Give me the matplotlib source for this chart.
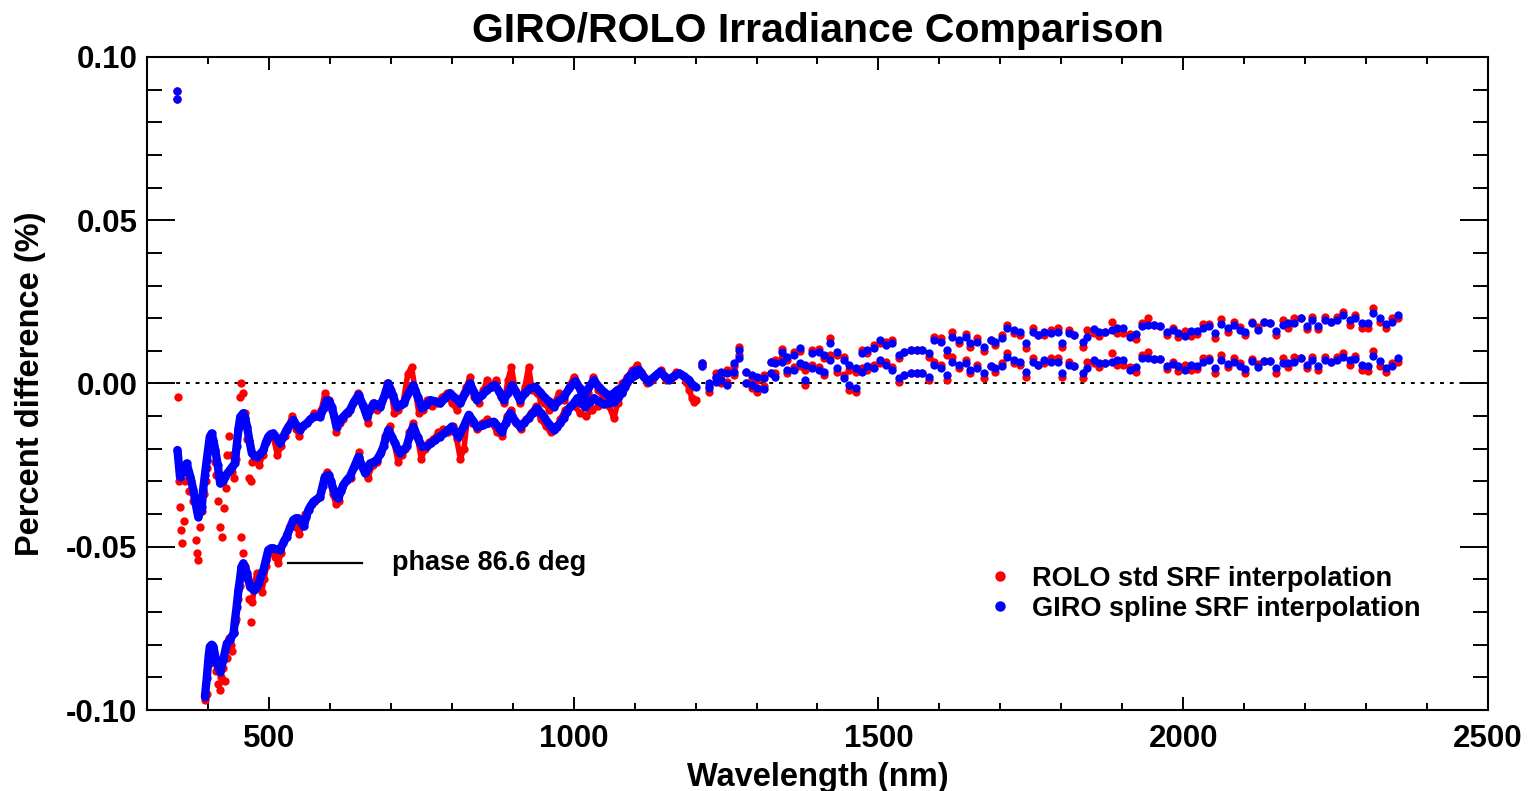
import numpy as np
import matplotlib
matplotlib.use('Agg')
import matplotlib.pyplot as plt
from matplotlib.ticker import MultipleLocator

plt.rcParams['font.family'] = ['Liberation Sans', 'DejaVu Sans']
plt.rcParams['font.weight'] = 'bold'

# values are percent difference in units of 0.001 %

# dense part, phase small (upper curve)
giro_up_nm = [350, 354, 360, 365, 371, 376, 380, 384, 388, 390, 392, 395, 398, 403, 406, 409, 412, 416,
              420, 424, 428, 432, 436, 440, 444, 447, 450, 453, 458, 461, 464, 468, 472, 476, 480, 486,
              491, 495, 499, 503, 507, 512, 518, 523, 529, 535, 540, 546, 551, 556, 562, 568, 573, 579,
              584, 590, 595, 599, 603, 607, 611, 617, 622, 628, 633, 640, 647, 654, 661, 666, 672, 678,
              683, 690, 696, 703, 710, 716, 721, 729, 737, 744, 751, 758, 765, 773, 781, 789, 797, 806,
              814, 822, 830, 836, 841, 850, 858, 865, 871, 878, 885, 892, 899, 905, 912, 920, 928, 937,
              944, 951, 959, 967, 975, 984, 993, 1003, 1010, 1016, 1024, 1033, 1041, 1049, 1058, 1066,
              1072, 1079, 1086, 1093, 1100, 1107, 1115, 1123, 1132, 1142, 1149, 1156, 1164, 1173, 1181,
              1189, 1195, 1200]
giro_up = [-20.4, -28.5, -27, -24.5, -28.5, -32.6, -37, -40.8, -39, -37.7, -32.6, -28, -23.4, -16.3, -15.3,
           -17.5, -20.4, -25, -30.6, -30, -28.5, -27.5, -26.5, -25.5, -24.5, -19.3, -14, -10.2, -9.1, -10.5,
           -13.2, -17.5, -21.4, -22.2, -22.4, -21.5, -20.4, -18, -16.3, -15.5, -15.3, -16.5, -18.3, -16.5,
           -14.2, -12.5, -11.2, -13, -14.2, -13, -12.2, -11, -10.2, -10, -10.2, -7.5, -5.1, -5.5, -7.1, -10,
           -13.2, -11.5, -10.2, -9, -8.1, -5.5, -3.5, -6.5, -10.2, -8, -6.1, -6.5, -7.1, -3.5, 0.0, -3.5,
           -7.1, -6.5, -6.1, -3, -0.5, -4, -7.6, -6.5, -5.1, -5.5, -6.1, -4.5, -3.0, -4.5, -6.1, -3, 0.0,
           -2.5, -5.1, -3.5, -2.0, -1, -0.5, -2.5, -5.1, -3, -0.5, -2.5, -5.1, -3, -1.5, -1.0, -2.5, -4.0,
           -5.5, -7.1, -5.5, -4.0, -1.5, 0.8, -1.5, -4.3, -1.5, 1.0, -1, -2.5, -3.8, -3.0, -2, -1.5, 0.5,
           2.6, 3.8, 4.2, 2.0, 0.6, 2, 3.6, 2.3, 1.1, 2.2, 3.1, 2.2, 1.1, -0.5, -1.0]

rolo_up_nm = [352, 354, 356, 358, 360, 363, 366, 369, 372, 376, 380, 382, 384, 387, 390, 393, 396,
              399, 402, 405, 408, 411, 414, 417, 420, 423, 426, 429, 432, 434, 437, 440, 443, 446, 449,
              452, 455, 458, 461, 464, 467, 470, 473, 478, 484, 490, 496, 502, 508, 514, 520, 526, 532,
              538, 544, 550, 556, 562, 568, 574, 580, 586, 592, 598, 604, 610, 616, 622, 630, 638, 646,
              654, 662, 670, 678, 686, 694, 700, 706, 712, 720, 728, 734, 740, 746, 752, 760, 768, 776,
              784, 792, 800, 808, 816, 824, 830, 836, 844, 852, 858, 866, 872, 880, 886, 892, 898, 904,
              912, 920, 926, 932, 940, 946, 952, 960, 968, 976, 984, 992, 1000, 1008, 1016, 1024, 1032,
              1040, 1048, 1056, 1064, 1072, 1080, 1088, 1096, 1104, 1112, 1120, 1128, 1136, 1144, 1152,
              1160, 1168, 1176, 1184, 1190, 1194, 1197, 1200]
rolo_up = [-30, -37.7, -44.9, -49.0, -42, -30, -26, -33, -30, -36, -48, -52, -54, -44, -39, -34, -30,
           -26, -19, -17, -19, -24, -28, -36, -44, -47, -38, -32, -22, -16, -22, -27, -29, -23, -14, -4, 0,
           -3, -9, -17, -29, -30, -24, -23, -25, -22, -18, -16, -17, -22, -19, -16, -13, -10, -14, -16, -13,
           -12, -11, -9, -10, -8, -3, -5, -8, -15, -12, -11, -9, -6, -3, -7, -12, -6, -8, -5, 0, -2, -9, -8,
           -6, 3, 5, -2, -9, -8, -5, -7, -6, -4, -3, -6, -8, -4, -1, 2, -4, -6, -2, 1, -1, 1, -4, -6, 1, 5,
           -2, -6, -1, 5, -2, -3, -5, -6, -8, -6, -3, -5, -1, 2, -1, -6, -3, 2, -2, -4, -5, -5, -2, 0, 2, 4,
           5.7, 3, 0, 1, 3, 4, 1, 1.5, 3.5, 3, 0.5, -2, -4.5, -5.6, -5]

# dense part, phase 86.6 deg (lower curve)
giro_low_nm = [395, 398, 401, 403, 406, 409, 414, 420, 425, 431, 436, 442, 444, 447, 450, 453, 455, 458,
               461, 464, 469, 475, 479, 483, 487, 491, 495, 499, 503, 507, 512, 518, 523, 529, 535, 540,
               544, 548, 553, 557, 561, 565, 569, 573, 578, 584, 588, 592, 598, 602, 606, 610, 614, 618,
               622, 628, 633, 640, 647, 652, 658, 662, 666, 672, 677, 683, 688, 692, 696, 702, 707, 711,
               715, 720, 726, 731, 737, 744, 751, 759, 766, 773, 780, 787, 794, 800, 806, 811, 820, 828,
               835, 841, 847, 852, 860, 869, 876, 882, 889, 896, 904, 912, 919, 926, 933, 940, 946, 951,
               959, 967, 972, 978, 984, 989, 995, 1000, 1006, 1012, 1019, 1026, 1033, 1041, 1049, 1058,
               1066, 1072, 1079, 1084, 1088, 1093, 1099, 1104, 1110]
giro_low = [-95.9, -90.3, -83.7, -80.6, -80, -80.6, -85.7, -88.3, -84.7, -79.6, -78.6, -76.5, -73.0, -68.4,
            -63.3, -59.2, -56.1, -55.1, -56.5, -58.1, -62.2, -63.3, -62.5, -61.2, -59, -57.1, -54, -51.0,
            -50.5, -50.5, -50.8, -51.0, -49, -46.9, -44, -41.8, -41.3, -41.3, -42.5, -43.8, -41, -38.7,
            -37.3, -36.2, -35.5, -34.7, -31.5, -28.5, -28.0, -30, -32.6, -34.5, -35.2, -33, -31.1, -29.5,
            -28.5, -25.5, -22.4, -25, -27.5, -26, -24.5, -24, -23.4, -21.5, -19.3, -16.5, -14.2, -16.5,
            -18.3, -20, -21.4, -20.5, -19.3, -16, -13.2, -16.5, -19.3, -19.3, -18.3, -17.3, -16.3, -15.3,
            -14.3, -13.2, -14.8, -16.3, -13, -9.6, -11.5, -13.2, -13, -12.7, -12.2, -11.7, -13.2, -14.8,
            -12, -9.1, -11.5, -13.2, -12, -10.7, -9, -7.6, -9, -10.2, -12.3, -14.2, -13.2, -12.2, -10.5,
            -8.6, -7, -6.1, -4.5, -6, -7.1, -5.8, -4.5, -5.5, -6.4, -6, -5.6, -4.3, -3.0, -1.2, 0.6, 1.5,
            2.3, 2.9, 3.1]

rolo_low_nm = [395, 398, 401, 404, 407, 410, 413, 416, 419, 422, 425, 428, 431, 434, 437, 440, 443, 446,
               449, 452, 455, 458, 461, 464, 467, 470, 473, 476, 480, 484, 488, 492, 496, 500, 505, 510,
               515, 520, 525, 530, 535, 540, 545, 550, 555, 560, 565, 570, 575, 580, 585, 590, 595, 600,
               605, 610, 615, 620, 627, 634, 641, 648, 655, 662, 670, 677, 684, 691, 698, 705, 712, 718,
               724, 730, 737, 744, 750, 756, 762, 770, 778, 786, 794, 802, 808, 814, 820, 826, 834, 842,
               850, 858, 866, 874, 882, 890, 898, 906, 914, 922, 930, 938, 946, 954, 962, 970, 978, 986,
               994, 1002, 1010, 1020, 1030, 1040, 1050, 1058, 1066, 1072, 1080, 1088, 1096, 1104, 1110]
rolo_low = [-97, -95, -86, -83, -80, -84, -88, -92, -94, -90, -87, -91, -84, -78, -80, -82, -76, -72, -66,
            -62, -47, -52, -56, -60, -66, -73, -67, -62, -58, -61, -64, -60, -56, -52, -51, -53, -55, -52,
            -48, -46, -44, -42, -44, -46, -43, -40, -38, -37, -36, -35, -33, -29, -27, -30, -34, -37, -36,
            -32, -30, -29, -25, -21, -26, -29, -25, -24, -21, -16, -13, -18, -24, -22, -20, -15, -12, -17,
            -23, -20, -18, -17, -15, -14, -15, -13, -17, -23, -20, -10, -12, -14, -12, -11, -12, -15, -16,
            -10, -8, -12, -14, -11, -9, -7, -11, -13, -15, -14, -11, -8, -7, -7, -9, -10, -8, -7, -6, -7,
            -10.7, -6, -3, 0, 2, 3, 3.5]

# isolated points: 350 nm band and one ROLO outlier
giro_first_nm = [350, 350]
giro_first = [87.0, 89.5]
rolo_out_nm = [350, 350, 351]
rolo_out = [87.0, 89.5, -4.0]

# sparse bands 1210-2355 nm, two rows (hi / lo)
band_nm = [1211, 1222, 1233, 1242, 1252, 1263, 1271, 1282, 1293, 1301, 1312, 1323, 1331, 1342, 1350, 1361,
           1372, 1380, 1391, 1402, 1411, 1421, 1432, 1443, 1452, 1463, 1473, 1482, 1493, 1502, 1512, 1523,
           1533, 1542, 1553, 1563, 1572, 1583, 1591, 1602, 1613, 1621, 1632, 1643, 1651, 1662, 1673, 1684,
           1692, 1703, 1711, 1722, 1733, 1742, 1753, 1761, 1772, 1783, 1794, 1802, 1813, 1821,
           1835, 1843, 1853, 1862, 1872, 1883, 1892, 1902, 1912, 1922, 1932, 1943, 1952, 1962, 1973, 1983,
           1992, 2003, 2013, 2022, 2032, 2042, 2053, 2062, 2073, 2083, 2093, 2102, 2113, 2123, 2132, 2142,
           2153, 2163, 2172, 2182, 2193, 2203, 2212, 2222, 2233, 2242, 2252, 2263, 2273, 2282, 2293, 2303,
           2312, 2323, 2333, 2343, 2353]
giro_hi = [6.2, 0.05, 2.1, 3.6, 3.1, 6.2, 10.3, 3.6, 2.6, 2.1, 1.6, 6.7, 6.2, 9.7, 8.2, 8.7, 10.8, 5.7, 9.2,
           9.7, 8.7, 12.3, 9.7, 7.2, 5.7, 4.6, 9.2, 10.3, 10.8, 13.3, 11.8, 12.3, 8.7, 9.7, 10.3, 10.3, 10.3,
           9.2, 13.3, 12.8, 10.3, 14.3, 13.3, 14.3, 12.3, 12.8, 11.3, 13.3, 12.8, 13.8, 16.9, 16.4, 15.9,
           12.3, 15.9, 14.8, 15.9, 15.4, 15.9, 12.3, 15.4, 14.8,
           12.8, 14.3, 16.6, 15.9, 15.9, 16.4, 17.1, 16.9, 14.1, 15.2, 17.6, 17.9, 17.8, 17.7, 15.7, 16.4,
           15.6, 14.5, 16.1, 16.1, 17.1, 17.6, 15.4, 18.2, 16.9, 17.9, 16.4, 15.7, 18.4, 16.4, 18.9, 18.6,
           16.2, 17.9, 18.4, 18.4, 19.9, 17.7, 19.4, 17.6, 19.4, 18.9, 19.4, 21.0, 19.4, 19.9, 18.6, 18.6,
           21.7, 20.2, 18.1, 18.9, 21.0]
giro_lo = [5.2, -1.5, 0.6, 1.1, -0.5, 3.6, 7.7, 0.05, -0.5, -1.5, -1.8, 3.1, 2.1, 6.7, 4.1, 4.1, 6.2, 1.1,
           4.6, 4.1, 3.6, 7.2, 4.6, 1.6, -0.5, -1.5, 3.6, 5.2, 4.6, 7.2, 5.7, 4.1, 1.6, 2.6, 3.1, 3.1, 3.1,
           2.1, 5.7, 4.6, 2.6, 6.7, 5.7, 6.2, 4.1, 4.6, 3.1, 5.2, 4.6, 5.2, 8.2, 7.2, 6.7, 3.6, 6.7, 5.7,
           7.2, 6.7, 6.7, 3.1, 5.7, 5.2,
           3.1, 4.6, 7.2, 6.4, 6.2, 6.7, 7.2, 7.2, 4.1, 4.9, 7.7, 7.7, 7.6, 7.4, 5.4, 6.0, 5.4, 4.1, 5.7,
           5.4, 6.7, 7.2, 4.6, 7.2, 6.0, 6.7, 5.2, 4.3, 7.0, 4.9, 7.0, 6.9, 4.6, 6.2, 6.4, 6.7, 7.7, 5.7,
           7.2, 5.2, 7.2, 6.7, 7.2, 8.2, 7.2, 7.4, 5.7, 5.4, 8.4, 7.0, 4.6, 5.4, 7.7]
rolo_hi = [6.2, -0.9, 3.1, 2.6, 4.1, 5.2, 11.3, 3.6, 1.6, 1.1, 2.6, 6.7, 7.2, 10.7, 7.2, 9.7, 9.8, 4.2,
           10.2, 10.7, 7.7, 13.8, 8.7, 8.2, 4.2, 3.6, 10.2, 9.3, 11.8, 12.3, 12.8, 13.3, 7.7, 9.7, 10.3,
           10.3, 10.3, 8.2, 14.3, 13.8, 8.8, 15.8, 12.3, 15.3, 11.3, 13.8, 9.8, 13.3, 11.8, 14.8, 17.9,
           15.4, 14.9, 10.8, 16.9, 14.8, 14.9, 16.4, 16.9, 11.3, 16.4, 14.8,
           11.3, 16.3, 15.6, 14.4, 15.9, 18.9, 15.6, 15.4, 15.1, 13.7, 18.6, 19.9, 17.8, 17.7, 14.7, 16.9,
           14.1, 16.0, 14.6, 15.1, 18.1, 18.1, 13.9, 19.7, 15.9, 18.9, 17.4, 14.7, 18.9, 17.4, 18.9, 18.6,
           14.7, 19.4, 16.9, 19.9, 19.9, 16.7, 20.4, 16.6, 20.4, 18.9, 20.4, 22.0, 17.9, 20.9, 17.1, 17.1,
           23.2, 18.7, 17.1, 19.9, 20.0]
rolo_lo = [5.2, -2.5, 1.6, 0.1, 0.5, 2.6, 8.7, 0.05, -1.5, -2.5, -0.8, 3.1, 3.1, 7.7, 3.1, 5.1, 5.2, -0.4,
           5.6, 5.1, 2.6, 8.7, 3.6, 2.6, -2.0, -2.5, 4.6, 4.2, 5.6, 6.2, 6.7, 5.1, 0.6, 2.6, 3.1, 3.1, 3.1,
           1.1, 6.7, 5.6, 1.1, 8.2, 4.7, 7.2, 3.1, 5.6, 1.6, 5.2, 3.6, 6.2, 9.2, 6.2, 5.7, 2.1, 7.7, 5.7,
           6.2, 7.7, 7.7, 2.1, 6.7, 5.2,
           1.6, 6.6, 6.2, 4.9, 6.2, 9.2, 5.7, 5.7, 5.1, 3.4, 8.7, 9.7, 7.6, 7.4, 4.4, 6.5, 3.9, 5.6, 4.2,
           4.4, 7.7, 7.7, 3.1, 8.7, 5.0, 7.7, 6.2, 3.3, 7.5, 5.9, 7.0, 6.9, 3.1, 7.7, 4.9, 8.2, 7.7, 4.7,
           8.2, 4.2, 8.2, 6.7, 8.2, 9.2, 5.7, 8.4, 4.2, 3.9, 9.9, 5.5, 3.6, 6.4, 6.7]

def pct(v):
    return np.array(v) / 1000.0

fig = plt.figure(figsize=(15.33, 7.91), dpi=100)
ax = fig.add_axes([0.0959, 0.1024, 0.8747, 0.8256])

ax.axhline(0, color='black', lw=1.4, ls=(0, (2, 3)), zorder=1)

ms = 6.0
red = '#ff0000'
blue = '#0000ff'
dot_kw = dict(ls='none', marker='o', ms=ms, mew=0)
band_kw = dict(lw=4.0, marker='o', ms=ms, mew=0, solid_joinstyle='round', solid_capstyle='round')

# ROLO underneath: scattered dots in the UV, joined band above 470 nm
rn = np.array(rolo_up_nm)
rv = pct(rolo_up)
uv = rn <= 470
ax.plot(rn[uv], rv[uv], color=red, zorder=2, **dot_kw)
ax.plot(rn[~uv], rv[~uv], color=red, zorder=2, **band_kw)
rn = np.array(rolo_low_nm)
rv = pct(rolo_low)
uv = rn <= 470
ax.plot(rn[uv], rv[uv], color=red, zorder=2, **dot_kw)
ax.plot(rn[~uv], rv[~uv], color=red, zorder=2, **band_kw)
ax.plot(rolo_out_nm, pct(rolo_out), color=red, zorder=2, **dot_kw)
ax.plot(band_nm, pct(rolo_hi), color=red, zorder=2, **dot_kw)
ax.plot(band_nm, pct(rolo_lo), color=red, zorder=2, label='ROLO std SRF interpolation', **dot_kw)

# GIRO on top
band_kw['lw'] = 6.0
ax.plot(giro_up_nm, pct(giro_up), color=blue, zorder=3, **band_kw)
ax.plot(giro_low_nm, pct(giro_low), color=blue, zorder=3, **band_kw)
ax.plot(giro_first_nm, pct(giro_first), color=blue, zorder=3, **dot_kw)
ax.plot(band_nm, pct(giro_hi), color=blue, zorder=3, **dot_kw)
ax.plot(band_nm, pct(giro_lo), color=blue, zorder=3, label='GIRO spline SRF interpolation', **dot_kw)

# phase annotation
ax.plot([531, 653], [-0.055, -0.055], color='black', lw=1.6)
ax.text(702, -0.055, 'phase 86.6 deg', fontsize=19.5, fontweight='bold', va='center', ha='left')

ax.set_xlim(300, 2500)
ax.set_ylim(-0.10, 0.10)
ax.set_xticks([500, 1000, 1500, 2000, 2500])
ax.xaxis.set_minor_locator(MultipleLocator(100))
yt = [-0.10, -0.05, 0.0, 0.05, 0.10]
ax.set_yticks(yt, ['%.2f' % v if v != 0 else '0.00' for v in yt])
ax.yaxis.set_minor_locator(MultipleLocator(0.01))

ax.tick_params(which='both', direction='in', top=True, right=True, width=1.4, labelsize=22.5)
ax.tick_params(axis='x', which='major', length=9.5, pad=10)
ax.tick_params(axis='x', which='minor', length=5)
ax.tick_params(axis='y', which='major', length=20, pad=7)
ax.tick_params(axis='y', which='minor', length=10.5)
for s in ax.spines.values():
    s.set_linewidth(1.5)

ax.set_xlabel('Wavelength (nm)', fontsize=23.5, fontweight='bold')
ax.set_ylabel('Percent difference (%)', fontsize=23.5, fontweight='bold')
ax.xaxis.set_label_coords(0.5, -0.08)
ax.yaxis.set_label_coords(-0.075, 0.5)
ax.set_title('GIRO/ROLO Irradiance Comparison', fontsize=29.5, fontweight='bold', pad=11)

ax.legend(loc='center left', bbox_to_anchor=(0.626, 0.178), frameon=False, fontsize=19.5,
          handlelength=1.0, handletextpad=0.7, borderpad=0, borderaxespad=0, labelspacing=0.15,
          markerscale=1.25)

fig.savefig('out.png', dpi=100)
